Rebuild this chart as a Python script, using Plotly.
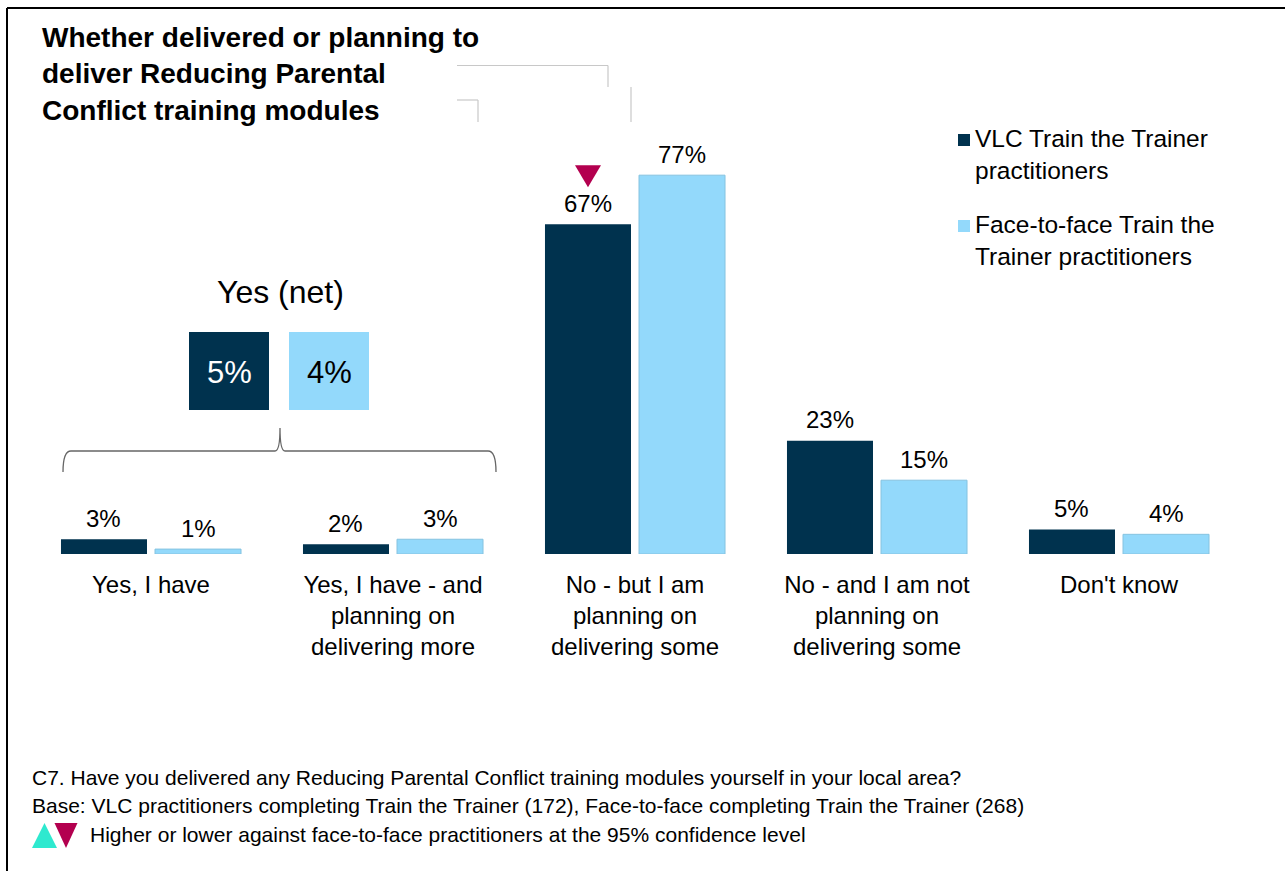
import plotly.graph_objects as go

# ---- data -------------------------------------------------------------
categories = [
    "Yes, I have",
    "Yes, I have - and<br>planning on<br>delivering more",
    "No - but I am<br>planning on<br>delivering some",
    "No - and I am not<br>planning on<br>delivering some",
    "Don't know",
]
vlc_values = [3, 2, 67, 23, 5]
f2f_values = [1, 3, 77, 15, 4]
vlc_sig = ["", "", "lower", "", ""]      # significance vs face-to-face

net_label = "Yes (net)"
net_vlc = 5
net_f2f = 4

series_names = [
    "VLC Train the Trainer<br>practitioners",
    "Face-to-face Train the<br>Trainer practitioners",
]
title_text = ("Whether delivered or planning to<br>"
              "deliver Reducing Parental<br>"
              "Conflict training modules")
note_question = ("C7. Have you delivered any Reducing Parental Conflict "
                 "training modules yourself in your local area?")
note_base = ("Base: VLC practitioners completing Train the Trainer (172), "
             "Face-to-face completing Train the Trainer (268)")
note_sig = "Higher or lower against face-to-face practitioners at the 95% confidence level"

# ---- styling ----------------------------------------------------------
DARK = "#00324E"
LIGHT = "#93D9FB"
TEAL = "#2EE9CF"
CRIMSON = "#B3004F"
FONT = "Liberation Sans, Arial, sans-serif"

W, H = 1285, 871
ML, MR, MT, MB = 30, 45, 62, 317
PW, PH = W - ML - MR, H - MT - MB
BARGAP, GROUPGAP = 0.223, 0.085
OFFSET = (1 - BARGAP) / 4          # centre offset of each bar in a group


def px(x):
    return (x - ML) / PW


def py(y):
    return (H - MB - y) / PH


x_pos = list(range(len(categories)))

fig = go.Figure()
fig.add_trace(go.Bar(x=x_pos, y=vlc_values, name=series_names[0],
                     marker=dict(color=DARK, line=dict(width=0))))
fig.add_trace(go.Bar(x=x_pos, y=f2f_values, name=series_names[1],
                     marker=dict(color=LIGHT, line=dict(width=1, color="#86C3E0"))))

annotations = []
shapes = []

# value labels above bars
for i, (a, b) in enumerate(zip(vlc_values, f2f_values)):
    for xv, v in ((i - OFFSET, a), (i + OFFSET, b)):
        annotations.append(dict(x=xv, y=v, xref="x", yref="y", text=f"{v}%",
                                showarrow=False, xanchor="center", yanchor="middle",
                                yshift=21,
                                font=dict(family=FONT, size=24, color="#000")))

# significance markers
for i, s in enumerate(vlc_sig):
    if s:
        up = s == "higher"
        path = ("M -13,37 L 13,37 L 0,59 Z" if up else "M -13,59 L 13,59 L 0,37 Z")
        shapes.append(dict(type="path", xref="x", yref="y",
                           xsizemode="pixel", ysizemode="pixel",
                           xanchor=i - OFFSET, yanchor=vlc_values[i],
                           path=path, fillcolor=TEAL if up else CRIMSON,
                           line=dict(width=0)))

# title
annotations.append(dict(x=px(40), y=py(20), xref="paper", yref="paper",
                        xanchor="left", yanchor="top", align="left",
                        text=f"<b>{title_text}</b>", showarrow=False,
                        font=dict(family=FONT, size=28, color="#000")))

# custom legend
for k, (name, col, cy) in enumerate(zip(series_names, [DARK, LIGHT], [140, 226])):
    shapes.append(dict(type="rect", xref="paper", yref="paper",
                       x0=px(958), x1=px(970), y0=py(cy - 6), y1=py(cy + 6),
                       fillcolor=col, line=dict(width=0)))
    annotations.append(dict(x=px(973), y=py(cy + 15), xref="paper", yref="paper",
                            xanchor="left", yanchor="middle", align="left",
                            text=name, showarrow=False,
                            font=dict(family=FONT, size=24.5, color="#000")))

# net box
annotations.append(dict(x=px(280), y=py(292), xref="paper", yref="paper",
                        text=net_label, showarrow=False,
                        xanchor="center", yanchor="middle",
                        font=dict(family=FONT, size=32, color="#000")))
for (x0, x1), val, col, tcol in (((189, 269), net_vlc, DARK, "#fff"),
                                 ((289, 369), net_f2f, LIGHT, "#000")):
    shapes.append(dict(type="rect", xref="paper", yref="paper",
                       x0=px(x0), x1=px(x1), y0=py(410), y1=py(332),
                       fillcolor=col, line=dict(width=0)))
    annotations.append(dict(x=px((x0 + x1) / 2), y=py(372), xref="paper", yref="paper",
                            text=f"{val}%", showarrow=False,
                            xanchor="center", yanchor="middle",
                            font=dict(family=FONT, size=31, color=tcol)))

# brace grouping the two "Yes" answers
bx0, bx1, bmid, by, bend, btop = 63, 496, 280, 451, 472, 428
brace = (f"M {px(bx0)},{py(bend)} Q {px(bx0)},{py(by)} {px(bx0 + 8)},{py(by)} "
         f"L {px(bmid - 5)},{py(by)} Q {px(bmid)},{py(by)} {px(bmid)},{py(btop)} "
         f"Q {px(bmid)},{py(by)} {px(bmid + 5)},{py(by)} "
         f"L {px(bx1 - 8)},{py(by)} Q {px(bx1)},{py(by)} {px(bx1)},{py(bend)}")
shapes.append(dict(type="path", xref="paper", yref="paper", path=brace,
                   line=dict(color="#666", width=1.3)))

# faint guide lines beside the title
for (x0, y0, x1, y1) in ((457, 65.5, 608, 65.5), (608, 65.5, 608, 87),
                         (457, 100, 478, 100), (478, 100, 478, 122),
                         (631, 87, 631, 122)):
    shapes.append(dict(type="line", xref="paper", yref="paper",
                       x0=px(x0), y0=py(y0), x1=px(x1), y1=py(y1),
                       line=dict(color="#C8C8C8", width=1.2)))

# outer frame (top and left edges)
shapes.append(dict(type="line", xref="paper", yref="paper",
                   x0=px(7), y0=py(8), x1=px(1285), y1=py(8),
                   line=dict(color="#000", width=2)))
shapes.append(dict(type="line", xref="paper", yref="paper",
                   x0=px(7), y0=py(8), x1=px(7), y1=py(871),
                   line=dict(color="#000", width=2)))

# footnotes
for text, xx, yy in ((note_question, 30, 777), (note_base, 30, 805), (note_sig, 88, 834)):
    annotations.append(dict(x=px(xx), y=py(yy), xref="paper", yref="paper",
                            xanchor="left", yanchor="middle", text=text,
                            showarrow=False,
                            font=dict(family=FONT, size=21, color="#000")))

# significance key triangles
def tri(cx, cy, w, h, up):
    if up:
        pts = [(cx - w / 2, cy + h / 2), (cx + w / 2, cy + h / 2), (cx, cy - h / 2)]
    else:
        pts = [(cx - w / 2, cy - h / 2), (cx + w / 2, cy - h / 2), (cx, cy + h / 2)]
    return "M " + " L ".join(f"{px(a)},{py(b)}" for a, b in pts) + " Z"


shapes.append(dict(type="path", xref="paper", yref="paper",
                   path=tri(44.5, 835.5, 25, 25, True), fillcolor=TEAL, line=dict(width=0)))
shapes.append(dict(type="path", xref="paper", yref="paper",
                   path=tri(66, 835.5, 23, 25, False), fillcolor=CRIMSON, line=dict(width=0)))

fig.update_layout(
    width=W, height=H,
    margin=dict(l=ML, r=MR, t=MT, b=MB, pad=0),
    paper_bgcolor="#fff", plot_bgcolor="#fff",
    barmode="group", bargap=BARGAP, bargroupgap=GROUPGAP,
    showlegend=False,
    font=dict(family=FONT, color="#000"),
    xaxis=dict(range=[-0.5, len(categories) - 0.5], tickvals=x_pos, ticktext=categories,
               showgrid=False, zeroline=False, showline=False, ticks="",
               ticklabelstandoff=14,
               tickfont=dict(family=FONT, size=24, color="#000"), fixedrange=True),
    yaxis=dict(range=[0, 100], visible=False, showgrid=False, zeroline=False),
    annotations=annotations,
    shapes=shapes,
)

fig.write_html("out.html")
